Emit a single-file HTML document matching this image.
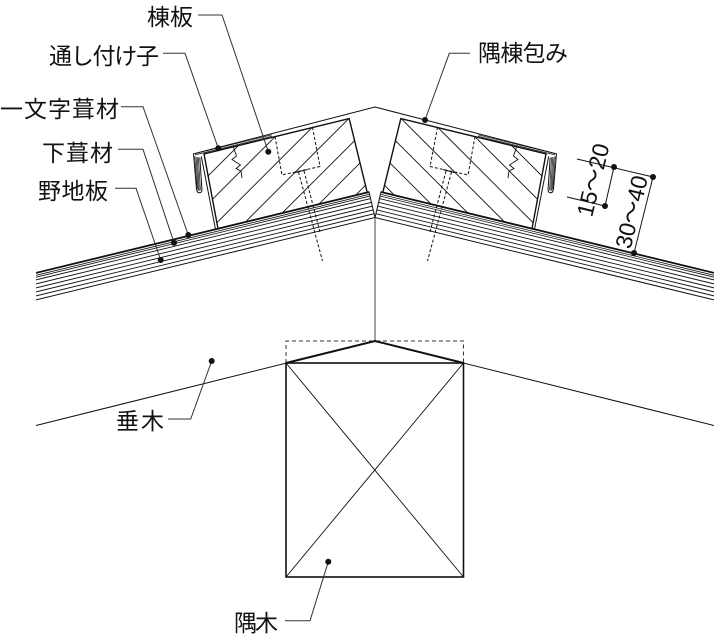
<!DOCTYPE html>
<html><head><meta charset="utf-8"><style>
html,body{margin:0;padding:0;background:#fff;}
svg{display:block;}
text{font-family:"Liberation Sans","Noto Sans CJK JP",sans-serif;fill:#111;}
</style></head><body>
<svg width="714" height="639" viewBox="0 0 714 639" xmlns="http://www.w3.org/2000/svg">
<defs>
<clipPath id="cb"><polygon points="36,271.3 369.2,191 375.3,218.6 36,301.6"/></clipPath>
<clipPath id="ck"><polygon points="204,153.9 349.2,118.6 367.2,192.4 218,228.7"/></clipPath>
</defs>

<g id="half" fill="none" stroke="#111">
  <!-- roof board layers -->
  <g clip-path="url(#cb)">
    <line x1="36" y1="272.9" x2="380" y2="189.3" stroke-width="1.8"/>
    <line x1="36" y1="275.3" x2="380" y2="191.7" stroke-width="0.8"/>
    <line x1="36" y1="277.2" x2="380" y2="193.6" stroke-width="0.8"/>
    <line x1="36" y1="279.9" x2="380" y2="196.3" stroke-width="0.9"/>
    <line x1="36" y1="283.9" x2="380" y2="200.3" stroke-width="0.9"/>
    <line x1="36" y1="287.9" x2="380" y2="204.3" stroke-width="0.9"/>
    <line x1="36" y1="291.9" x2="380" y2="208.3" stroke-width="0.9"/>
    <line x1="36" y1="295.9" x2="380" y2="212.3" stroke-width="0.9"/>
    <line x1="36" y1="299.9" x2="380" y2="216.3" stroke-width="1"/>
  </g>
  <line x1="369" y1="192" x2="375" y2="217.6" stroke-width="1"/>

  <!-- hatch in block -->
  <g clip-path="url(#ck)" stroke-width="0.9">
    <line x1="134" y1="250" x2="284" y2="100"/>
    <line x1="161.8" y1="250" x2="311.8" y2="100"/>
    <line x1="189.6" y1="250" x2="339.6" y2="100"/>
    <line x1="217.4" y1="250" x2="367.4" y2="100"/>
    <line x1="245.2" y1="250" x2="395.2" y2="100"/>
    <line x1="273" y1="250" x2="423" y2="100"/>
    <line x1="300.8" y1="250" x2="450.8" y2="100"/>
  </g>
  <!-- block outline -->
  <polygon points="204,153.9 349.2,118.6 367.2,192.4 218,228.7" stroke-width="1.4"/>

  <!-- cap -->
  <polyline points="375,107 193,154" stroke-width="1"/>
  <!-- flashing top lines -->
  <line x1="195" y1="154.9" x2="272" y2="136.2" stroke-width="0.7"/>
  <line x1="195" y1="153.5" x2="272" y2="134.8" stroke-width="0.7"/>
  <!-- hem -->
  <path d="M193.5,154 L196.5,189 Q197,192.8 199.5,192.8 Q202.2,192.8 201.9,189 L199.8,157.5" stroke-width="1"/>
  <path d="M194.8,156.3 L197.3,189.5 M196,156.6 L198.3,190.6 M197.2,157 L199.3,190.8 M198.4,157.3 L200.4,190.2" stroke-width="0.7"/>
  <!-- leg -->
  <line x1="201.3" y1="156.5" x2="215.5" y2="229.3" stroke-width="1"/>

  <!-- zigzag -->
  <path d="M233,146 L236.5,156 L232,159.5 L240.5,165 L236,168.5 L241,171 L242,178" stroke-width="0.9"/>

  <!-- dashed hidden part -->
  <polyline points="275,136.6 282,175 320,166.5 312.5,127.4" stroke-width="1" stroke-dasharray="3 2"/>
  <line x1="298.5" y1="172" x2="322.5" y2="261" stroke-width="1" stroke-dasharray="3 2"/>
  <line x1="304" y1="171" x2="320" y2="232" stroke-width="1" stroke-dasharray="3 2"/>
  <line x1="295" y1="172.6" x2="307" y2="169.6" stroke-width="1"/>
</g>
<use href="#half" transform="translate(750,0) scale(-1,1)"/>

<!-- ridge vertical -->
<line x1="375" y1="218" x2="375" y2="341" stroke="#888" stroke-width="1.6"/>

<!-- lower: rafter and hip -->
<g fill="none" stroke="#111">
  <polyline points="36,425.5 375,341 714,425.5" stroke-width="1"/>
  <polyline points="286,363 286,341 463.5,341 463.5,363" stroke="#333" stroke-width="1" stroke-dasharray="4 3"/>
  <polyline points="286,363 375,341 463.5,363" stroke-width="2"/>
  <rect x="286" y="363" width="177.5" height="214" stroke-width="1.6"/>
  <line x1="286" y1="363" x2="463.5" y2="577" stroke-width="0.9"/>
  <line x1="463.5" y1="363" x2="286" y2="577" stroke-width="0.9"/>
</g>

<!-- dimensions -->
<g fill="none" stroke="#111" stroke-width="1">
  <line x1="577" y1="159" x2="653" y2="177"/>
  <line x1="567" y1="197" x2="605" y2="206"/>
  <line x1="614" y1="167" x2="605" y2="206"/>
  <line x1="653" y1="177" x2="634" y2="253"/>
</g>
<g fill="#111">
  <circle cx="614" cy="167" r="3"/>
  <circle cx="605" cy="206" r="3"/>
  <circle cx="653" cy="177" r="3"/>
  <circle cx="634" cy="253" r="3"/>
</g>
<text x="0" y="8" font-size="23" text-anchor="middle" transform="translate(593,180) rotate(-76.3)">15～20</text>
<text x="0" y="8" font-size="23" text-anchor="middle" transform="translate(631.5,212) rotate(-76.3)">30～40</text>

<!-- leaders -->
<g fill="none" stroke="#333" stroke-width="1">
  <polyline points="198,15 222,15 268.3,151.7"/>
  <polyline points="163,53.3 185,53.3 218.3,148.3"/>
  <polyline points="121,106.7 143,106.7 188.3,235"/>
  <polyline points="118,149.3 143,149.3 174,242.7"/>
  <polyline points="115,188.3 136,188.3 160.7,260"/>
  <polyline points="470,53.3 449.3,53.3 425,120"/>
  <polyline points="211.7,361 190.7,419 168,419"/>
  <polyline points="328.3,561.7 310,620.7 285,620.7"/>
</g>
<g fill="#111">
  <circle cx="268.3" cy="151.7" r="3"/>
  <circle cx="218.3" cy="148.3" r="3"/>
  <circle cx="188.3" cy="235" r="3"/>
  <circle cx="174" cy="242.7" r="3"/>
  <circle cx="160.7" cy="260" r="3"/>
  <circle cx="425" cy="120" r="3"/>
  <circle cx="211.7" cy="361" r="3"/>
  <circle cx="328.3" cy="561.7" r="3"/>
</g>

<!-- labels -->
<g font-size="23">
  <text x="147" y="25" textLength="46" lengthAdjust="spacing">棟板</text>
  <text x="49" y="64" textLength="110" lengthAdjust="spacing">通し付け子</text>
  <text x="0" y="117" textLength="119" lengthAdjust="spacing">一文字葺材</text>
  <text x="42" y="161" textLength="71" lengthAdjust="spacing">下葺材</text>
  <text x="38" y="199" textLength="70" lengthAdjust="spacing">野地板</text>
  <text x="478" y="61" textLength="90" lengthAdjust="spacing">隅棟包み</text>
  <text x="116" y="429" textLength="48" lengthAdjust="spacing">垂木</text>
  <text x="234" y="631" textLength="44" lengthAdjust="spacing">隅木</text>
</g>
</svg>
</body></html>
